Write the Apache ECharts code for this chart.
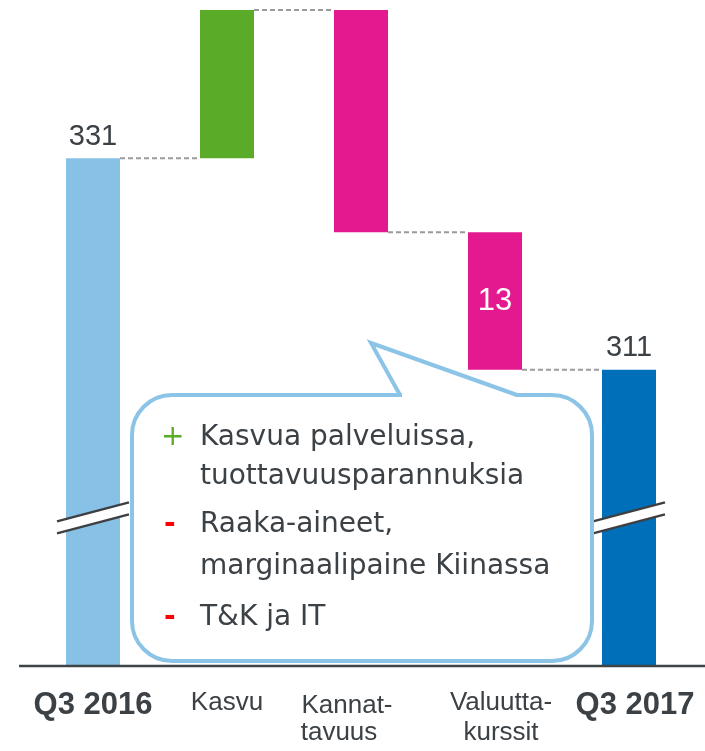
<!DOCTYPE html>
<html>
<head>
<meta charset="utf-8">
<script src="https://cdn.jsdelivr.net/npm/echarts@6/dist/echarts.min.js"></script>
<style>
  html, body { margin: 0; padding: 0; background: #fff; }
  #main { width: 705px; height: 751px; }
</style>
</head>
<body>
<div id="main"></div>
<script>
// data
var categories = ['Q3 2016', 'Kasvu', 'Kannattavuus', 'Valuuttakurssit', 'Q3 2017'];
var axisLabels = ['Q3 2016', 'Kasvu', 'Kannat-\ntavuus', 'Valuutta-\nkurssit', 'Q3 2017'];
var totals = [331, null, null, null, 311];
var changes = [null, 14, -21, -13, null];
var labelled = [true, false, false, true, true];
var breakValue = 297;
var bulletMarks = ['+', '', '-', '', '-'];
var bulletLines = ['Kasvua palveluissa,', 'tuottavuusparannuksia', 'Raaka-aineet,', 'marginaalipaine Kiinassa', 'T&K ja IT'];

// styles
var barColors = ['#87c1e6', '#5aab28', '#e4198f', '#e4198f', '#006fb9'];
var textColor = '#3c4146';
var bubbleColor = '#8cc4e7';
var barWidth = 54;

// waterfall: pohja + näkyvä osa
var base = [], height = [], connectors = [];
var level = 0;
for (var i = 0; i < categories.length; i++) {
    if (totals[i] !== null) {
        base.push(0);
        height.push(totals[i]);
        level = totals[i];
    } else if (changes[i] > 0) {
        base.push(level);
        height.push(changes[i]);
        level += changes[i];
    } else {
        level += changes[i];
        base.push(level);
        height.push(-changes[i]);
    }
    if (i < categories.length - 1) connectors.push([i, level]);
}

var barData = height.map(function (v, i) {
    var item = { value: v, itemStyle: { color: barColors[i] } };
    if (labelled[i]) {
        if (totals[i] !== null) {
            item.label = { show: true, position: 'top', distance: 7, color: textColor, fontSize: 29,
                fontFamily: 'Liberation Sans', formatter: String(totals[i]) };
        } else {
            item.label = { show: true, position: 'inside', color: '#fff', fontSize: 31,
                fontFamily: 'Liberation Sans', formatter: String(Math.abs(changes[i])) };
        }
    }
    return item;
});

var breakData = [];
for (var j = 0; j < totals.length; j++) {
    if (totals[j] !== null) breakData.push([j, breakValue]);
}

var richStyles = ['t', 'n', 'k', 'v', 't2'];

var myChart = echarts.init(document.getElementById('main'));

// puhekupla
var bubbleEls = [
    { type: 'rect', z: 100, shape: { x: 132, y: 395, width: 460, height: 266, r: 40 },
      style: { fill: '#fff', stroke: bubbleColor, lineWidth: 4 } },
    { type: 'rect', z: 101, shape: { x: 402, y: 392, width: 113, height: 7 }, style: { fill: '#fff' } },
    { type: 'polyline', z: 102, shape: { points: [[400, 395], [371, 343], [517, 395]] },
      style: { stroke: bubbleColor, lineWidth: 4, fill: null, lineJoin: 'miter' } }
];

var textEls = [];
var lineYs = [438, 477, 525, 567, 618];
for (var k = 0; k < bulletLines.length; k++) {
    if (bulletMarks[k]) {
        textEls.push({
            type: 'text', z: 103,
            style: { text: bulletMarks[k], x: bulletMarks[k] === '+' ? 161 : 164, y: lineYs[k],
                fill: bulletMarks[k] === '+' ? '#5aab28' : '#ff0000',
                font: (bulletMarks[k] === '+' ? 'normal ' : 'bold ') + '28px "DejaVu Sans"',
                verticalAlign: 'middle', align: 'left' }
        });
    }
    textEls.push({
        type: 'text', z: 103,
        style: { text: bulletLines[k], x: 200, y: lineYs[k], fill: textColor,
            font: '28px "DejaVu Sans"', verticalAlign: 'middle', align: 'left' }
    });
}

var option = {
    animation: false,
    grid: { left: 26, right: 9, top: 10, bottom: 85 },
    xAxis: {
        type: 'category',
        data: categories,
        axisLine: { show: false },
        axisTick: { show: false },
        axisLabel: {
            interval: 0,
            margin: 22,
            verticalAlign: 'top',
            formatter: function (value, idx) {
                var s = richStyles[idx];
                if (s === 'k') {
                    var parts = axisLabels[idx].split('\n');
                    return '{k1|' + parts[0] + '}\n{k2|' + parts[1] + '}';
                }
                return axisLabels[idx].split('\n').map(function (p) {
                    return '{' + s + '|' + p + '}';
                }).join('\n');
            },
            rich: {
                t: { fontFamily: 'Liberation Sans', fontWeight: 'bold', fontSize: 31, lineHeight: 34, color: textColor },
                t2: { fontFamily: 'Liberation Sans', fontWeight: 'bold', fontSize: 31, lineHeight: 34, color: textColor, padding: [0, 0, 0, 12] },
                n: { fontFamily: 'Liberation Sans', fontSize: 26, lineHeight: 30, color: textColor },
                k1: { fontFamily: 'Liberation Sans', fontSize: 26, lineHeight: 30, color: textColor, padding: [5, 28, 0, 0] },
                k2: { fontFamily: 'Liberation Sans', fontSize: 26, lineHeight: 30, color: textColor, padding: [0, 44, 0, 0] },
                v: { fontFamily: 'Liberation Sans', fontSize: 26, lineHeight: 30, color: textColor, padding: [0, 0, 0, 12] }
            }
        }
    },
    yAxis: {
        type: 'value',
        min: 283,
        max: 345,
        show: false,
        splitLine: { show: false }
    },
    series: [
        {
            name: 'pohja',
            type: 'bar',
            stack: 'wf',
            barWidth: barWidth,
            clip: true,
            itemStyle: { color: 'transparent' },
            data: base
        },
        {
            name: 'arvo',
            type: 'bar',
            stack: 'wf',
            barWidth: barWidth,
            clip: true,
            data: barData
        },
        {
            // katkoviivat pylväiden välillä
            name: 'yhdys',
            type: 'custom',
            z: 3,
            data: connectors,
            renderItem: function (params, api) {
                var idx = api.value(0), v = api.value(1);
                var p1 = api.coord([idx, v]);
                var p2 = api.coord([idx + 1, v]);
                return {
                    type: 'line',
                    shape: { x1: p1[0] + barWidth / 2, y1: p1[1], x2: p2[0] - barWidth / 2, y2: p2[1] },
                    style: { stroke: '#9b9b9b', lineWidth: 2, lineDash: [5, 3] }
                };
            }
        },
        {
            // akselin katkos
            name: 'katkos',
            type: 'custom',
            z: 4,
            data: breakData,
            renderItem: function (params, api) {
                var p = api.coord([api.value(0), api.value(1)]);
                var x = p[0], y = p[1], hw = 36, rise = 9.5, gap = 6;
                return {
                    type: 'group',
                    children: [
                        { type: 'polygon', shape: { points: [[x - hw, y + gap + rise], [x + hw, y + gap - rise], [x + hw, y - gap - rise], [x - hw, y - gap + rise]] },
                          style: { fill: '#fff' } },
                        { type: 'line', shape: { x1: x - hw, y1: y - gap + rise, x2: x + hw, y2: y - gap - rise },
                          style: { stroke: '#3d3f42', lineWidth: 2.5 } },
                        { type: 'line', shape: { x1: x - hw, y1: y + gap + rise, x2: x + hw, y2: y + gap - rise },
                          style: { stroke: '#3d3f42', lineWidth: 2.5 } }
                    ]
                };
            }
        }
    ],
    graphic: [
        { type: 'line', z: 50, shape: { x1: 19, y1: 666, x2: 705, y2: 666 }, style: { stroke: '#3f4447', lineWidth: 2.5 } }
    ].concat(bubbleEls, textEls)
};

myChart.setOption(option);
</script>
</body>
</html>
